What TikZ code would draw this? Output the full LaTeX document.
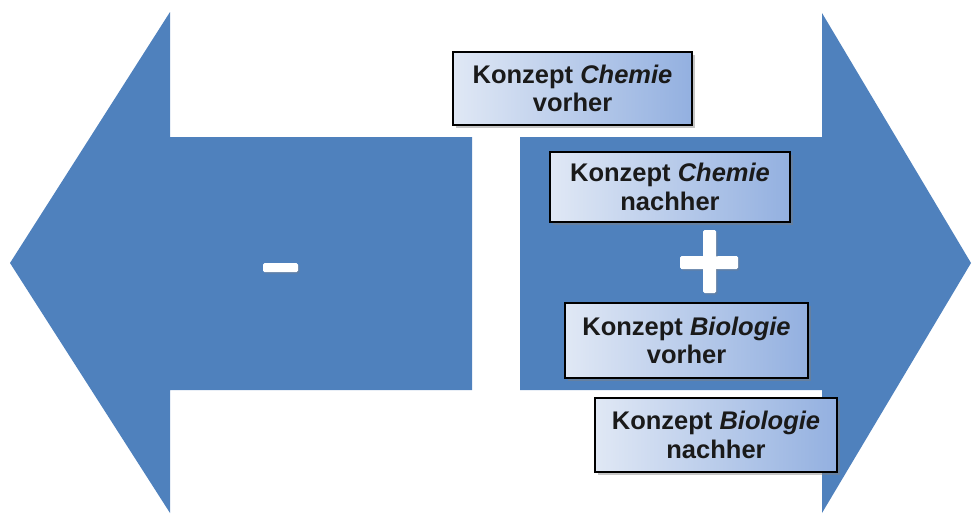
\documentclass[tikz,border=0pt]{standalone}
\usepackage{fontspec}
\setmainfont{Liberation Sans}
\usetikzlibrary{shadows}
\definecolor{arrowblue}{HTML}{4F81BD}
\definecolor{boxlight}{HTML}{E0E8F5}
\definecolor{boxdark}{HTML}{93B0E0}
\definecolor{txt}{HTML}{1A1A1A}
\tikzset{
  bigarrow/.style={fill=arrowblue, draw=none},
  conceptbox/.style={draw=black, line width=1.3pt, left color=boxlight, right color=boxdark,
    drop shadow={opacity=0.45, shadow xshift=2.5pt, shadow yshift=-2.5pt},
    align=center, text=txt, inner sep=0pt,
    font=\fontsize{25.5}{28.5}\selectfont\bfseries},
  signbar/.style={fill=white, draw=none, rounded corners=1.5pt,
    drop shadow={opacity=0.35, shadow xshift=1.5pt, shadow yshift=-1.5pt}}
}
\begin{document}
\begin{tikzpicture}[x=1pt,y=-1pt]
\useasboundingbox (0,0) rectangle (972,515);
% left arrow
\fill[bigarrow] (10,263) -- (170,12) -- (170,137) -- (472,137) -- (472,390)
  -- (170,390) -- (170,513) -- cycle;
% right arrow
\fill[bigarrow] (520,137) -- (822,137) -- (822,13) -- (971,263) -- (822,513)
  -- (822,390) -- (520,390) -- cycle;
% minus sign
\path[signbar] (263,263) rectangle (298,272);
% plus sign
\path[signbar] (680,256) rectangle (738,269);
\path[signbar] (703,230) rectangle (716,293);
\path[fill=white] (681,256.5) rectangle (737,268.5);
% boxes
\node[conceptbox, minimum width=239pt, minimum height=73pt] (b1) at (572.5,88.5)
  {Konzept \textit{Chemie}\\vorher};
\node[conceptbox, minimum width=240pt, minimum height=70pt] (b2) at (670,187)
  {Konzept \textit{Chemie}\\nachher};
\node[conceptbox, minimum width=243pt, minimum height=75pt] (b3) at (686.5,340.5)
  {Konzept \textit{Biologie}\\vorher};
\node[conceptbox, minimum width=242pt, minimum height=74pt] (b4) at (716,435)
  {Konzept \textit{Biologie}\\nachher};
\end{tikzpicture}
\end{document}
